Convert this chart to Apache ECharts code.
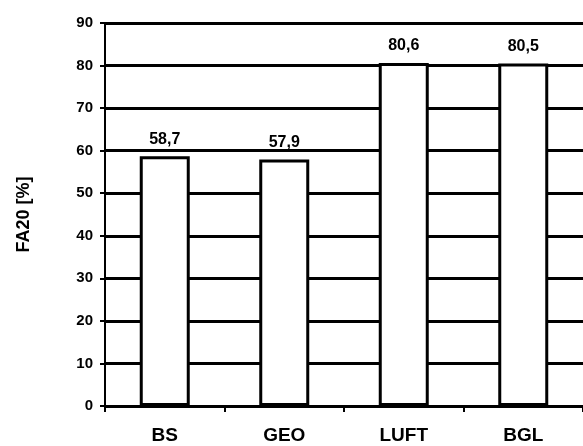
<!DOCTYPE html>
<html>
<head>
<meta charset="utf-8">
<script src="https://cdn.jsdelivr.net/npm/echarts@6/dist/echarts.min.js"></script>
<style>
html,body{margin:0;padding:0;background:#fff;}
#chart{width:583px;height:446px;}
</style>
</head>
<body>
<div id="chart"></div>
<script>
var categories = ['BS', 'GEO', 'LUFT', 'BGL'];
var fa20Values = [58.7, 57.9, 80.6, 80.5];
var yTicks = { min: 0, max: 90, interval: 10 };
var yAxisTitle = 'FA20 [%]';

var chart = echarts.init(document.getElementById('chart'), null, { renderer: 'canvas' });
var font = '"Liberation Sans", Arial, sans-serif';
chart.setOption({
  animation: false,
  backgroundColor: '#ffffff',
  grid: { left: 105, top: 23, bottom: 40, width: 484, containLabel: false },
  xAxis: {
    type: 'category',
    data: categories,
    boundaryGap: true,
    axisLine: { show: true, lineStyle: { color: '#000', width: 2 } },
    axisTick: { show: true, length: 6, lineStyle: { color: '#000', width: 2 } },
    axisLabel: { color: '#000', fontFamily: font, fontWeight: 'bold', fontSize: 19, margin: 20 },
    splitLine: { show: false }
  },
  yAxis: {
    type: 'value',
    min: yTicks.min, max: yTicks.max, interval: yTicks.interval,
    name: yAxisTitle,
    nameLocation: 'middle',
    nameRotate: 90,
    nameGap: 72,
    nameTextStyle: { color: '#000', fontFamily: font, fontWeight: 'bold', fontSize: 18 },
    axisLine: { show: true, lineStyle: { color: '#000', width: 2 } },
    axisTick: { show: true, length: 5, lineStyle: { color: '#000', width: 2 } },
    axisLabel: { color: '#000', fontFamily: font, fontWeight: 'bold', fontSize: 15, margin: 12 },
    splitLine: { show: true, lineStyle: { color: '#000', width: 3 } }
  },
  series: [{
    type: 'bar',
    data: fa20Values,
    barWidth: 50,
    itemStyle: { color: '#fff', borderColor: '#000', borderWidth: 3 },
    label: {
      show: true,
      position: 'top',
      distance: 9,
      color: '#000',
      fontFamily: font,
      fontWeight: 'bold',
      fontSize: 16,
      formatter: function (p) { return p.value.toFixed(1).replace('.', ','); }
    }
  }]
});
</script>
</body>
</html>
